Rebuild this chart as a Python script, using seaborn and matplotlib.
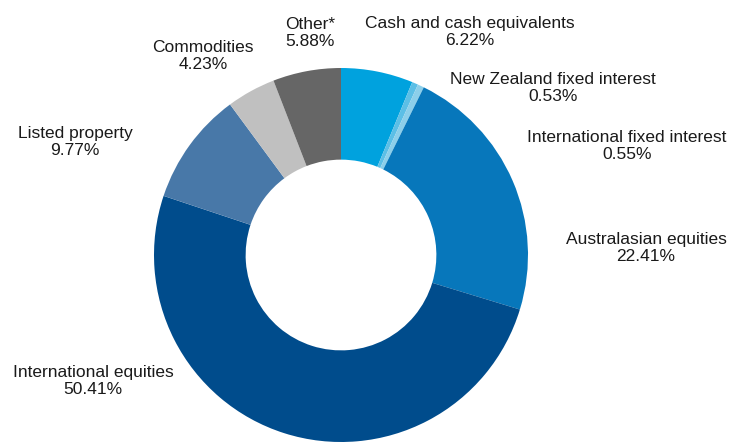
import matplotlib
matplotlib.use("Agg")
import matplotlib.pyplot as plt
import seaborn as sns

categories = ["Cash and cash equivalents", "New Zealand fixed interest",
              "International fixed interest", "Australasian equities",
              "International equities", "Listed property", "Commodities", "Other*"]
values = [6.22, 0.53, 0.55, 22.41, 50.41, 9.77, 4.23, 5.88]
colors = ["#00a2de", "#5cbfe6", "#8ccfea", "#0777bb", "#004c8c", "#4878a8", "#c0c0c0", "#666666"]
# label centres in figure pixels (x, y from top)
label_pos = [(470, 32), (553, 88), (627, 146), (646, 248), (93, 381),
             (75, 142), (203, 56), (310, 33)]

sns.set_theme(style="white")
plt.rcParams['font.family'] = ['Liberation Sans', 'DejaVu Sans']

W, H = 734, 443
fig = plt.figure(figsize=(W / 100, H / 100), dpi=100)
cx, cy, R = 341, 255, 187
ax = fig.add_axes([(cx - R) / W, (H - cy - R) / H, 2 * R / W, 2 * R / H])
ax.pie(values, colors=colors, startangle=90, counterclock=False, radius=1,
       wedgeprops=dict(width=0.49, edgecolor="none", linewidth=0))
ax.set_xlim(-1, 1)
ax.set_ylim(-1, 1)
ax.set_aspect("equal")
ax.axis("off")

for cat, v, (px, py) in zip(categories, values, label_pos):
    fig.text(px / W, 1 - py / H, f"{cat}\n{v:.2f}%", ha="center", va="center",
             fontsize=12.5, color="#1a1a1a", linespacing=1.15)

fig.savefig("out.png", dpi=100)
